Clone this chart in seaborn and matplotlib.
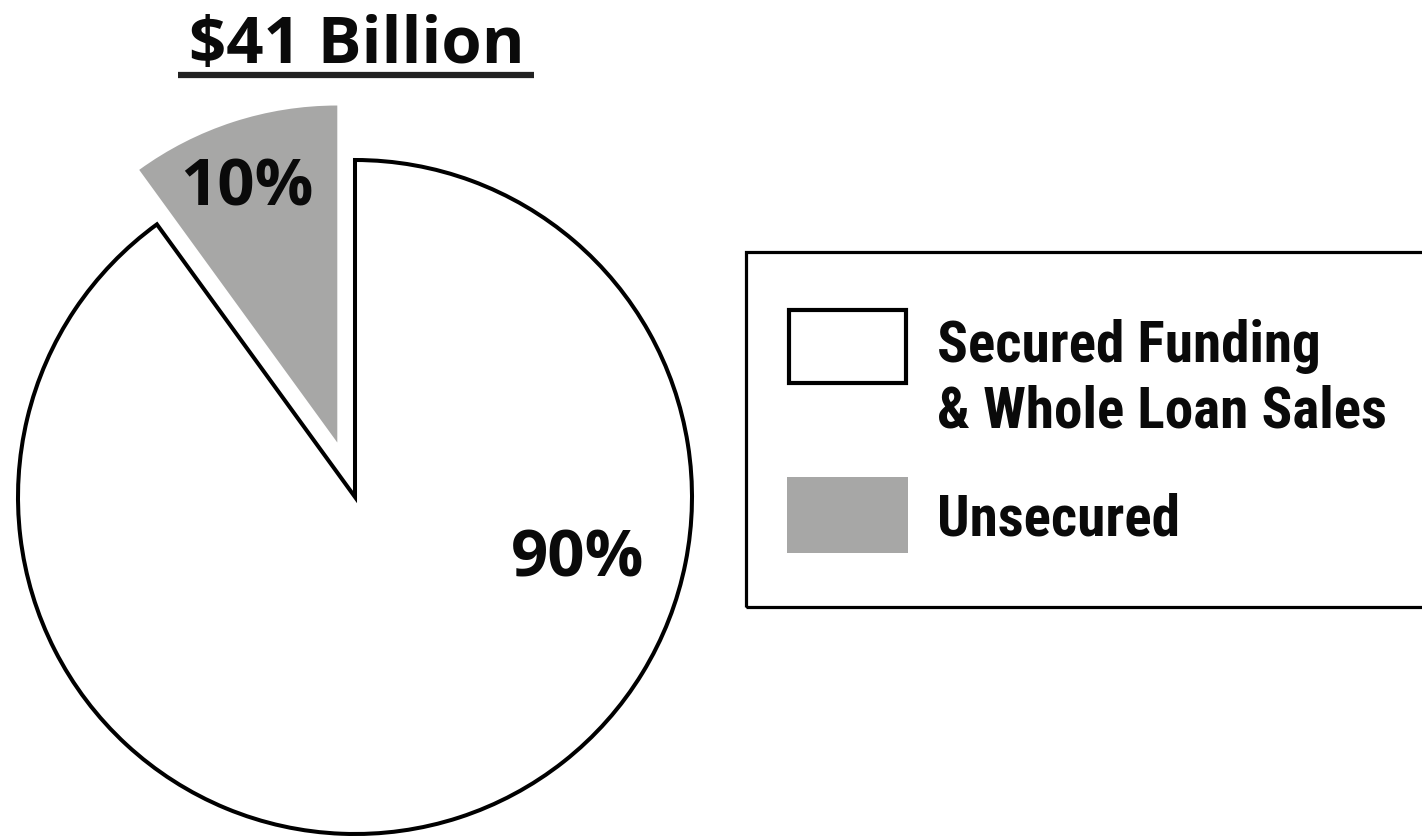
import matplotlib
matplotlib.use("Agg")
import matplotlib.pyplot as plt
import seaborn as sns
from matplotlib import font_manager
from matplotlib.patches import Rectangle
from matplotlib.lines import Line2D

# ---- data ----
categories = ["Unsecured", "Secured Funding\n& Whole Loan Sales"]
shares = [10, 90]
pct_labels = ["10%", "90%"]
colors = ["#a7a7a6", "#ffffff"]
title = "$41 Billion"
legend_order = [1, 0]

sns.set_theme(style="white")
plt.rcParams['font.family'] = ['Open Sans', 'DejaVu Sans']

available = {f.name for f in font_manager.fontManager.ttflist}
cands = ['Liberation Sans Narrow', 'Roboto Condensed', 'Open Sans Condensed',
         'Noto Sans Condensed', 'Lato', 'Roboto']
legname = next((c for c in cands if c in available), 'Open Sans')
legfont = [legname, 'DejaVu Sans']

W, H = 1422, 838
fig = plt.figure(figsize=(W / 100, H / 100), dpi=100)
fig.patch.set_facecolor("white")
ax = fig.add_axes([0, 0, 1, 1])

def fx(x):
    return x / W

def fy(y):
    return 1 - y / H

R = 337.0
cx, cy = 355.0, 497.0
wedges, _ = ax.pie(shares, colors=colors, startangle=90, counterclock=True,
                   explode=[0.17, 0], radius=1, center=(0, 0),
                   wedgeprops=dict(linewidth=0))
wedges[1].set_edgecolor("black")
wedges[1].set_linewidth(2.9)
wedges[0].set_edgecolor("none")
ax.set_xlim(-cx / R, (W - cx) / R)
ax.set_ylim((cy - H) / R, cy / R)
ax.set_aspect("auto")
ax.axis("off")

# percentage labels (pixel centres -> data)
pct_pos = [(247, 189), (578, 560)]
for lab, (px, py) in zip(pct_labels, pct_pos):
    ax.text((px - cx) / R, (cy - py) / R, lab, ha="center", va="center",
            fontsize=47, fontweight="bold", color="#0a0a0a")

# title with underline
fig.text(fx(357), fy(63), title, ha="center", va="baseline",
         fontsize=47, fontweight="bold", color="#0a0a0a")
fig.add_artist(Line2D([fx(178), fx(534)], [fy(75), fy(75)],
                      transform=fig.transFigure, color="#222222", lw=4.5,
                      solid_capstyle="butt"))

# legend box
fig.add_artist(Rectangle((fx(746), fy(607)), fx(760), 355 / H,
                         transform=fig.transFigure, fill=False,
                         edgecolor="black", lw=2.3))
patch_tops = [308, 477]
baselines = [[362, 428], [535]]
texts = []
for k, idx in enumerate(legend_order):
    top = patch_tops[k]
    if idx == 1:
        fig.add_artist(Rectangle((fx(789), fy(top + 75)), 117 / W, 73 / H,
                                 transform=fig.transFigure, facecolor=colors[idx],
                                 edgecolor="black", lw=3.0))
    else:
        fig.add_artist(Rectangle((fx(787), fy(top + 76)), 121 / W, 76 / H,
                                 transform=fig.transFigure, facecolor=colors[idx],
                                 edgecolor="none"))
    for line, b in zip(categories[idx].split("\n"), baselines[k]):
        t = fig.text(fx(937), fy(b), line, ha="left", va="baseline",
                     fontsize=37, fontweight="bold", color="#0a0a0a",
                     family=legfont)
        texts.append(t)

# fit legend text to about the reference width of the longest line
renderer = fig.canvas.get_renderer()
widest = max(texts, key=lambda t: t.get_window_extent(renderer).width)
w = widest.get_window_extent(renderer).width
scale = min(1.12, 450.0 / w)
for t in texts:
    t.set_fontsize(37 * scale)

fig.savefig("out.png", dpi=100, facecolor="white")
